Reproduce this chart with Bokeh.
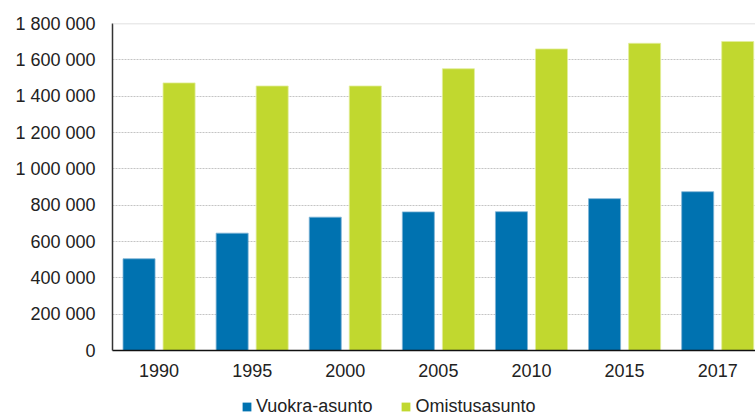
from bokeh.plotting import figure
from bokeh.layouts import column
from bokeh.models import (ColumnDataSource, Range1d, FixedTicker, Legend, LegendItem,
                          Span, CustomJSTickFormatter)
from bokeh.transform import dodge
from bokeh.embed import file_html
from bokeh.resources import INLINE

# Asuntokunnat hallintaperusteen mukaan
years = ["1990", "1995", "2000", "2005", "2010", "2015", "2017"]
vuokra = [505000, 646000, 734000, 763000, 764000, 836000, 874000]
omistus = [1473000, 1456000, 1456000, 1551000, 1660000, 1691000, 1701000]
y_ticks = [0, 200000, 400000, 600000, 800000, 1000000, 1200000, 1400000, 1600000, 1800000]
series_names = ["Vuokra-asunto", "Omistusasunto"]

BLUE = "#0072b0"
GREEN = "#c1d82f"
FONT = "Liberation Sans"
FS = "18px"

pos = [i + 0.5 for i in range(len(years))]
src = ColumnDataSource(dict(x=pos, vuokra=vuokra, omistus=omistus))

p = figure(width=755, height=383, output_backend="svg", toolbar_location=None,
           x_range=Range1d(0, 6.906), y_range=Range1d(0, 1800000),
           min_border_left=112, min_border_right=0, min_border_top=23,
           min_border_bottom=33)
p.outline_line_color = None
p.background_fill_color = "white"
p.border_fill_color = "white"

bw = 0.344
p.vbar(x=dodge("x", -0.215), top="vuokra", width=bw, source=src,
       fill_color=BLUE, line_color="#7fb4d6", line_width=0.8)
p.vbar(x=dodge("x", 0.215), top="omistus", width=bw, source=src,
       fill_color=GREEN, line_color="#e2ee9a", line_width=0.8)

# grid
p.xgrid.grid_line_color = None
p.ygrid.ticker = FixedTicker(ticks=y_ticks)
p.ygrid.grid_line_color = "#c4c4c4"
p.ygrid.grid_line_dash = "2 1"
p.ygrid.grid_line_width = 1
p.add_layout(Span(location=1800000, dimension="width", line_color="#d6d6d6", line_width=1.5))

# y axis
yax = p.yaxis[0]
yax.ticker = FixedTicker(ticks=y_ticks)
yax.formatter = CustomJSTickFormatter(
    code="return Math.round(tick).toString().replace(/\\B(?=(\\d{3})+(?!\\d))/g, ' ');")
yax.major_tick_line_color = None
yax.minor_tick_line_color = None
yax.major_label_standoff = 11
yax.axis_line_color = "#333333"
yax.axis_line_width = 1.5
yax.major_label_text_font = FONT
yax.major_label_text_font_size = FS
yax.major_label_text_color = "#222222"

# x axis
xax = p.xaxis[0]
xax.ticker = FixedTicker(ticks=pos)
xax.major_label_overrides = {v: y for v, y in zip(pos, years)}
xax.major_tick_line_color = None
xax.minor_tick_line_color = None
xax.major_label_standoff = 7
xax.axis_line_color = "#111111"
xax.axis_line_width = 1.5
xax.major_label_text_font = FONT
xax.major_label_text_font_size = FS
xax.major_label_text_color = "#222222"

# legend strip under the chart (its key renderers stay hidden)
lg = figure(width=755, height=32, output_backend="svg", toolbar_location=None,
            x_range=Range1d(0, 1), y_range=Range1d(0, 1),
            x_axis_location=None, y_axis_location=None,
            min_border_left=0, min_border_right=0, min_border_top=0, min_border_bottom=0)
lg.outline_line_color = None
lg.xgrid.grid_line_color = None
lg.ygrid.grid_line_color = None
k1 = lg.vbar(x="x", top="vuokra", width=0.1, source=src,
             fill_color=BLUE, line_color=None, visible=False)
k2 = lg.vbar(x="x", top="omistus", width=0.1, source=src,
             fill_color=GREEN, line_color=None, visible=False)

legend = Legend(items=[LegendItem(label=series_names[0], renderers=[k1]),
                       LegendItem(label=series_names[1], renderers=[k2])],
                location=(129, -2), orientation="horizontal",
                border_line_color=None, background_fill_alpha=0,
                padding=0, margin=0, spacing=28, label_standoff=4,
                glyph_width=11, glyph_height=11, label_height=14,
                label_text_font=FONT, label_text_font_size=FS,
                label_text_color="#222222")
lg.add_layout(legend, "center")

layout = column(p, lg, spacing=0)
open("out.html", "w").write(file_html(layout, INLINE))
